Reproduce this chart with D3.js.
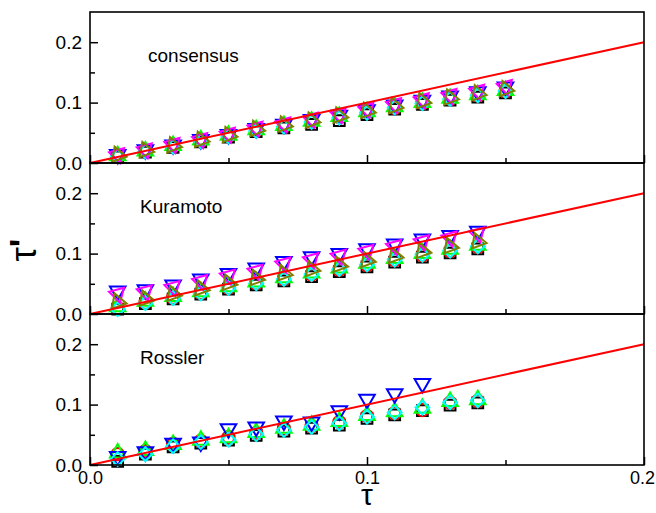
<!DOCTYPE html>
<html><head><meta charset="utf-8">
<script src="https://cdn.jsdelivr.net/npm/d3@7"></script>
<style>body{margin:0;background:#fff}svg{display:block}text{font-family:Arial,"Liberation Sans",sans-serif}</style>
</head><body>
<script>
// ---------- data ----------
const panelNames = ["consensus", "Kuramoto", "Rossler"];
const xTicks = [0.0, 0.1, 0.2];
const yTicks = [0.0, 0.1, 0.2];
const xMinor = [0.05, 0.15];
const yMinor = [0.05, 0.15];
const tau15 = [0.01,0.02,0.03,0.04,0.05,0.06,0.07,0.08,0.09,0.10,0.11,0.12,0.13,0.14,0.15];
const tau14 = [0.01,0.02,0.03,0.04,0.05,0.06,0.07,0.08,0.09,0.10,0.11,0.12,0.13,0.14];
const tau12 = [0.01,0.02,0.03,0.04,0.05,0.06,0.07,0.08,0.09,0.10,0.11,0.12];

// consensus
const consBlack   = [0.010,0.018,0.026,0.035,0.043,0.052,0.058,0.064,0.070,0.080,0.089,0.097,0.104,0.109,0.116];
const consRed     = [0.011,0.020,0.028,0.037,0.045,0.054,0.061,0.068,0.076,0.084,0.091,0.099,0.106,0.112,0.119];
const consGreen   = [0.012,0.020,0.029,0.038,0.046,0.055,0.062,0.069,0.077,0.085,0.093,0.100,0.107,0.113,0.120];
const consBlue    = [0.014,0.022,0.030,0.039,0.047,0.057,0.064,0.072,0.079,0.088,0.096,0.104,0.111,0.118,0.126];
const consCyan    = [0.011,0.019,0.027,0.036,0.044,0.053,0.060,0.068,0.075,0.083,0.092,0.099,0.106,0.112,0.119];
const consMagenta = [0.014,0.022,0.031,0.039,0.048,0.058,0.065,0.073,0.080,0.089,0.097,0.105,0.112,0.119,0.127];
const consOlive   = [0.013,0.021,0.029,0.038,0.046,0.056,0.063,0.070,0.078,0.086,0.094,0.102,0.108,0.115,0.122];

// Kuramoto
const kurBlack   = [0.008,0.017,0.025,0.033,0.041,0.048,0.055,0.062,0.070,0.078,0.086,0.094,0.101,0.108];
const kurRed     = [0.010,0.019,0.027,0.035,0.043,0.051,0.058,0.065,0.073,0.081,0.089,0.097,0.104,0.111];
const kurGreen   = [0.012,0.021,0.029,0.037,0.045,0.053,0.060,0.068,0.076,0.084,0.092,0.100,0.107,0.114];
const kurBlue    = [0.038,0.040,0.048,0.058,0.067,0.076,0.087,0.095,0.100,0.108,0.116,0.124,0.130,0.137];
const kurCyan    = [0.008,0.018,0.026,0.034,0.043,0.051,0.058,0.066,0.074,0.082,0.090,0.098,0.105,0.112];
const kurMagenta = [0.033,0.037,0.044,0.054,0.063,0.071,0.083,0.090,0.096,0.104,0.112,0.120,0.126,0.133];
const kurOlive   = [0.020,0.025,0.033,0.042,0.051,0.059,0.067,0.074,0.081,0.089,0.096,0.104,0.112,0.120];

// Rossler
const rosBlack = [0.006,0.018,0.030,0.036,0.041,0.049,0.056,0.061,0.066,0.077,0.083,0.090,0.099,0.103];
const rosRed   = [0.018,0.023,0.035,0.040,0.046,0.053,0.060,0.064,0.071,0.081,0.086,0.091,0.103,0.106];
const rosGreen = [0.020,0.024,0.034,0.041,0.045,0.054,0.061,0.066,0.072,0.082,0.088,0.094,0.105,0.108];
const rosBlue  = [0.014,0.022,0.036,0.038,0.060,0.063,0.073,0.071,0.090,0.109,0.118,0.135];
const rosCyan  = [0.010,0.018,0.031,0.038,0.042,0.051,0.058,0.063,0.069,0.080,0.087,0.095,0.104,0.107];

// ---------- layout ----------
const W = 656, H = 513;
const left = 90, right = 644;
const panelTop = [12, 163, 314];
const panelH = 151;
const FONT = "Arial, 'Liberation Sans', sans-serif";

const svg = d3.select("body").append("svg").attr("width", W).attr("height", H);
const x = d3.scaleLinear().domain([0, 0.2]).range([left, right]);

const colors = {k:"#000000", r:"#ff0000", g:"#00ff00", b:"#0000ff", c:"#00ffff", m:"#ff00ff", o:"#808000"};
const shapes = {
  square:  {type: d3.symbolSquare,   size: 115, rot: 0},
  circle:  {type: d3.symbolCircle,   size: 120, rot: 0},
  up:      {type: d3.symbolTriangle, size: 105, rot: 0},
  down:    {type: d3.symbolTriangle, size: 105, rot: 180},
  diamond: {type: d3.symbolSquare,   size: 95,  rot: 45},
  mag:     {type: d3.symbolTriangle, size: 105, rot: 165},
  right:   {type: d3.symbolTriangle, size: 105, rot: 100}
};

const panels = [
  {name: panelNames[0], tx: 148, series: [
    {x: tau15, y: consBlack, c: colors.k, s: "square"},
    {x: tau15, y: consRed, c: colors.r, s: "circle"},
    {x: tau15, y: consGreen, c: colors.g, s: "up"},
    {x: tau15, y: consBlue, c: colors.b, s: "down"},
    {x: tau15, y: consCyan, c: colors.c, s: "diamond"},
    {x: tau15, y: consMagenta, c: colors.m, s: "mag"},
    {x: tau15, y: consOlive, c: colors.o, s: "right"}]},
  {name: panelNames[1], tx: 140, series: [
    {x: tau14, y: kurBlack, c: colors.k, s: "square"},
    {x: tau14, y: kurRed, c: colors.r, s: "circle"},
    {x: tau14, y: kurGreen, c: colors.g, s: "up"},
    {x: tau14, y: kurBlue, c: colors.b, s: "down"},
    {x: tau14, y: kurCyan, c: colors.c, s: "diamond"},
    {x: tau14, y: kurMagenta, c: colors.m, s: "mag"},
    {x: tau14, y: kurOlive, c: colors.o, s: "right"}]},
  {name: panelNames[2], tx: 140, series: [
    {x: tau14, y: rosBlack, c: colors.k, s: "square"},
    {x: tau14, y: rosRed, c: colors.r, s: "circle"},
    {x: tau14, y: rosGreen, c: colors.g, s: "up"},
    {x: tau12, y: rosBlue, c: colors.b, s: "down"},
    {x: tau14, y: rosCyan, c: colors.c, s: "diamond"}]}
];

panels.forEach((p, i) => {
  const top = panelTop[i], bot = top + panelH;
  const y = d3.scaleLinear().domain([0, 0.25]).range([bot, top]);
  const g = svg.append("g");

  p.series.forEach(s => {
    const sh = shapes[s.s];
    const sym = d3.symbol().type(sh.type).size(sh.size);
    g.append("g").selectAll("path").data(s.x.map((d, j) => [d, s.y[j]])).join("path")
      .attr("d", sym)
      .attr("transform", d => `translate(${x(d[0])},${y(d[1])}) rotate(${sh.rot})`)
      .attr("fill", "none").attr("stroke", s.c).attr("stroke-width", 2);
  });

  g.append("line")
    .attr("x1", x(0)).attr("y1", y(0)).attr("x2", x(0.2)).attr("y2", y(0.2))
    .attr("stroke", "#ff0000").attr("stroke-width", 2);

  g.append("rect").attr("x", left).attr("y", top).attr("width", right - left).attr("height", panelH)
    .attr("fill", "none").attr("stroke", "#000").attr("stroke-width", 1.6);

  const ya = g.append("g").attr("transform", `translate(${left},0)`)
    .call(d3.axisLeft(y).tickValues(yTicks).tickSize(-8).tickPadding(8).tickFormat(d3.format(".1f")));
  ya.select(".domain").remove();
  ya.selectAll("line").attr("stroke-width", 1.5);
  ya.selectAll("text").attr("font-size", 19).attr("fill", "#000").attr("font-family", FONT);
  const ym = g.append("g").attr("transform", `translate(${left},0)`)
    .call(d3.axisLeft(y).tickValues(yMinor).tickSize(-5).tickFormat(""));
  ym.select(".domain").remove();
  ym.selectAll("line").attr("stroke-width", 1.5);

  const xa = g.append("g").attr("transform", `translate(0,${bot})`)
    .call(d3.axisBottom(x).tickValues(xTicks).tickSize(-8).tickFormat(i === 2 ? d3.format(".1f") : "").tickPadding(6));
  xa.select(".domain").remove();
  xa.selectAll("line").attr("stroke-width", 1.5);
  xa.selectAll("text").attr("font-size", 18).attr("fill", "#000").attr("font-family", FONT)
    .attr("dx", d => d === 0.2 ? -2 : 0);
  const xm = g.append("g").attr("transform", `translate(0,${bot})`)
    .call(d3.axisBottom(x).tickValues(xMinor).tickSize(-5).tickFormat(""));
  xm.select(".domain").remove();
  xm.selectAll("line").attr("stroke-width", 1.5);

  g.append("text").attr("x", p.tx).attr("y", top + 50).attr("font-size", 19).attr("font-family", FONT).text(p.name);
});

// axis titles
svg.append("text").attr("x", x(0.1)).attr("y", 505).attr("text-anchor", "middle")
  .attr("font-family", "'Liberation Serif', 'Times New Roman', serif").attr("font-size", 30).text("τ");
svg.append("text").attr("transform", "translate(36,250) rotate(-90)").attr("text-anchor", "middle")
  .attr("font-family", "'Liberation Serif', 'Times New Roman', serif").attr("font-size", 36)
  .html('τ<tspan font-weight="bold">\'</tspan>');
</script>
</body></html>
